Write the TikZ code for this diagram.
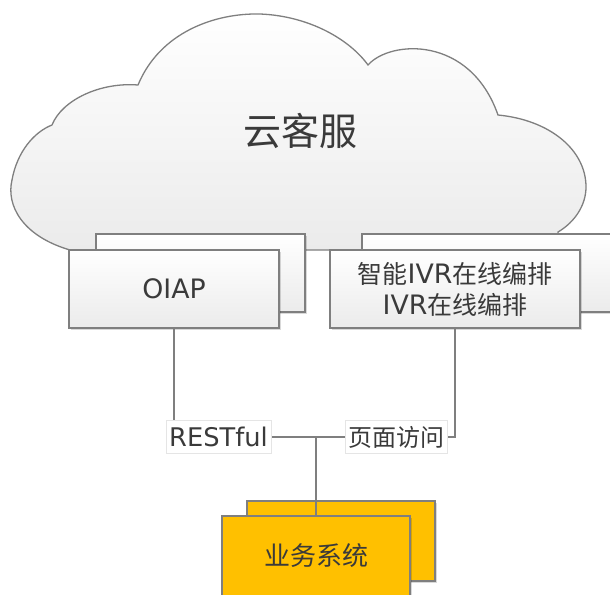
\documentclass[tikz,border=0pt]{standalone}
\usepackage{fontspec}
\setmainfont{Noto Sans CJK SC}
\newfontfamily\latfont[Scale=1.07]{DejaVu Sans}
\usetikzlibrary{shadows}
\definecolor{linegray}{HTML}{7F7F7F}
\definecolor{boxgray}{HTML}{EBEBEB}
\definecolor{bizyellow}{HTML}{FFC000}
\definecolor{textgray}{HTML}{3A3A3A}
\newcommand{\lat}[1]{{\latfont #1}}
\tikzset{
  svcbox/.style={draw=linegray, line width=1.2pt, top color=white, bottom color=boxgray,
    minimum height=78pt, inner sep=0pt, align=center, text=textgray,
    font=\fontsize{25pt}{31pt}\selectfont,
    drop shadow={shadow xshift=1.5pt, shadow yshift=-1.5pt, fill=black, opacity=0.15}},
  bizbox/.style={draw=linegray, line width=1.2pt, fill=bizyellow, minimum width=188pt,
    minimum height=80pt, inner sep=0pt, text=textgray, font=\fontsize{26pt}{30pt}\selectfont,
    drop shadow={shadow xshift=1.5pt, shadow yshift=-1.5pt, fill=black, opacity=0.15}},
  tag/.style={fill=white, draw=gray!20, minimum height=33pt, inner xsep=3pt, inner ysep=2pt,
    text=textgray, font=\fontsize{24pt}{28pt}\selectfont},
  wire/.style={draw=linegray, line width=1.3pt}
}
\begin{document}
\begin{tikzpicture}[x=1pt,y=-1pt]
\clip (0,0) rectangle (610,594);
% cloud
\draw[draw=linegray, line width=1.3pt, top color=white, bottom color=boxgray]
  (70,250) .. controls (22,236) and (6,205) .. (12,180)
  .. controls (17,152) and (34,132) .. (52,125)
  .. controls (62,100) and (100,82) .. (138,85)
  .. controls (160,32) and (215,13) .. (260,14)
  .. controls (310,16) and (350,40) .. (368,65)
  .. controls (390,40) and (470,35) .. (498,115)
  .. controls (550,120) and (586,150) .. (586,187)
  .. controls (586,205) and (575,222) .. (558,232)
  -- (558,250) -- cycle;
\node[text=textgray, font=\fontsize{38pt}{40pt}\selectfont] (cloud) at (300,131) {云客服};
% services
\node[svcbox, minimum width=209pt] (oiapback) at (200.5,273) {};
\node[svcbox, minimum width=250pt] (ivrback) at (487,273) {};
\node[svcbox, minimum width=210pt] (oiap) at (174,289) {\lat{OIAP}};
\node[svcbox, minimum width=250pt] (ivr) at (455,289) {智能\lat{IVR}在线编排\\\lat{IVR}在线编排};
% business systems
\node[bizbox] (bizback) at (341,541) {};
\coordinate (hub) at (316,437);
\draw[wire] (oiap.south) |- (hub);
\draw[wire] (ivr.south) |- (hub);
\draw[wire] (hub) -- (316,516);
\node[bizbox] (biz) at (316,556) {业务系统};
% labels
\node[tag] (rest) at (218.5,437) {\lat{RESTful}};
\node[tag] (page) at (396,437) {页面访问};
\end{tikzpicture}
\end{document}
